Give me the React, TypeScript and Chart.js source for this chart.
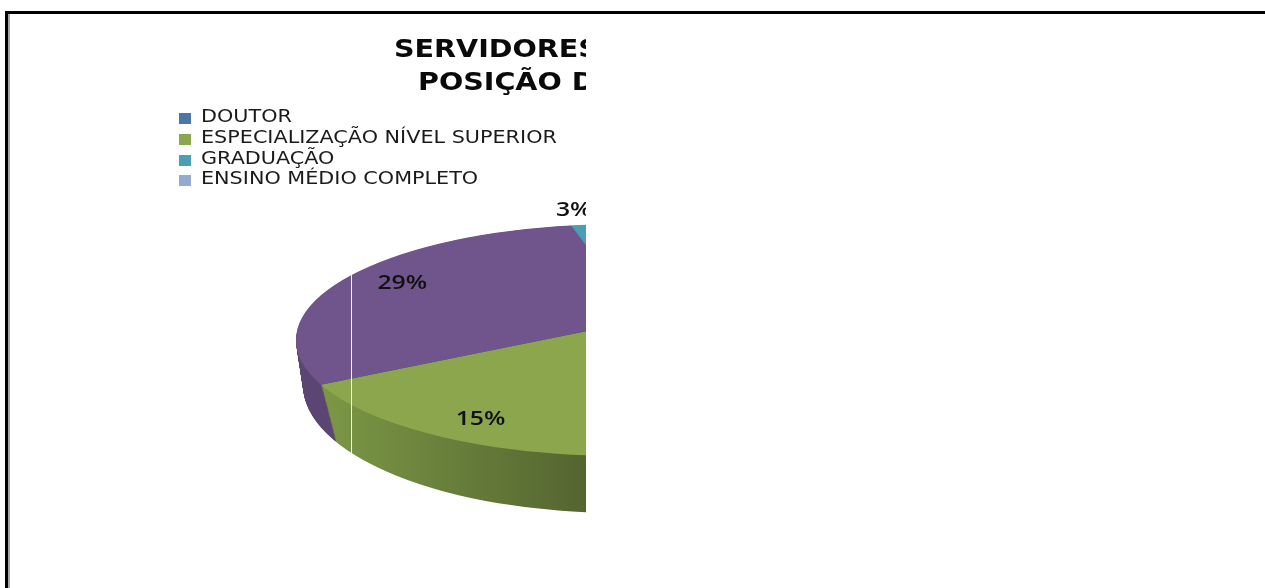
import React, { useEffect, useRef } from "react";
import { Chart, registerables } from "chart.js";

Chart.register(...registerables);

// Slice shares in percent, clockwise; blank labels belong to legend entries outside the panel.
const categories = ["DOUTOR", "", "ESPECIALIZAÇÃO NÍVEL SUPERIOR", "", "GRADUAÇÃO", "", "ENSINO MÉDIO COMPLETO"];
const shares = [3, 12, 15, 29, 3, 30, 8];
const labelledSlices = [2, 3, 4];
const faceColors = ["#4A76A8", "#A8433F", "#8BA64D", "#70558C", "#4A9FB5", "#D9833B", "#93A9CF"];
const wallFrom = ["#3A5C84", "#843431", "#7B9745", "#5B4573", "#3A7D8E", "#AB672E", "#7487A6"];
const wallTo = ["#3A5C84", "#843431", "#546530", "#5F4878", "#3A7D8E", "#AB672E", "#7487A6"];
const titleLines = ["SERVIDORES", "POSIÇÃO D"];
const legendColors = ["#4A76A8", "#8BA64D", "#4A9FB5", "#93A9CF"];

const PANEL_RIGHT = 586;
const SPIN_DEG = 150.6 + 90 - 3.6 * (shares[0] + shares[1] + shares[2]);

// Face and base outlines of the tilted pie, with the apex where the slices meet.
const face = { cx: 620, cy: 340, a: 324, b: 116, apexX: 642, apexY: 320 };
const base = { cx: 620, cy: 385, a: 317, b: 128, apexX: 642, apexY: 372 };

const lerp = (p: number, q: number, t: number) => p + (q - p) * t;

function drawPieLayer(ctx: CanvasRenderingContext2D, meta: any, t: number) {
  const cy = lerp(face.cy, base.cy, t);
  const a = lerp(face.a, base.a, t);
  const b = lerp(face.b, base.b, t);
  const apexX = lerp(face.apexX, base.apexX, t);
  const apexY = lerp(face.apexY, base.apexY, t);
  const first = meta.data[0];
  const S = 480 / first.outerRadius;
  const ky = 0.358 + (b / a - face.b / face.a);

  ctx.save();
  ctx.beginPath();
  ctx.rect(0, 0, PANEL_RIGHT, 588);
  ctx.clip();
  ctx.beginPath();
  ctx.ellipse(face.cx, cy, a, b, 0, 0, Math.PI * 2);
  ctx.clip();
  ctx.translate(apexX, apexY);
  ctx.scale(S, S * ky);
  ctx.translate(-first.x, -first.y);

  meta.data.forEach((arc: any, i: number) => {
    const saved = arc.options;
    let fill: any = faceColors[i];
    if (t > 0) {
      const toLib = (px: number) => first.x + (px - apexX) / S;
      const g = ctx.createLinearGradient(toLib(325), 0, toLib(PANEL_RIGHT), 0);
      g.addColorStop(0, wallFrom[i]);
      g.addColorStop(1, wallTo[i]);
      fill = g;
    }
    arc.options = Object.assign({}, saved, { backgroundColor: fill, borderWidth: 0 });
    arc.draw(ctx);
    arc.options = saved;
  });
  ctx.restore();
}

const tiltedPie = {
  id: "tiltedPie",
  beforeDatasetDraw(chart: any, args: any) {
    const ctx = chart.ctx;
    const steps = 80;
    for (let k = steps; k >= 0; k--) drawPieLayer(ctx, args.meta, k / steps);
    return false;
  },
  afterDatasetsDraw(chart: any) {
    const ctx: CanvasRenderingContext2D = chart.ctx;
    const meta = chart.getDatasetMeta(0);
    ctx.save();
    ctx.beginPath();
    ctx.rect(0, 0, PANEL_RIGHT, 588);
    ctx.clip();

    // Seam running down the pie
    ctx.fillStyle = "#F4F4F0";
    ctx.fillRect(351, 275, 1, 179);

    // Percentage labels placed along each slice's bisector
    const placement: Record<number, { r: number; off: number }> = {
      2: { r: 322, off: -3.5 },
      3: { r: 261, off: 0.5 },
      4: { r: 313, off: -3.0 },
    };
    ctx.fillStyle = "#111";
    ctx.textAlign = "center";
    ctx.textBaseline = "middle";
    labelledSlices.forEach((i) => {
      const arc = meta.data[i];
      const mid = (arc.startAngle + arc.endAngle) / 2 + (placement[i].off * Math.PI) / 180;
      const x = face.apexX + placement[i].r * Math.cos(mid);
      const y = face.apexY + placement[i].r * 0.358 * Math.sin(mid);
      ctx.save();
      ctx.translate(x, y);
      ctx.scale(1.27, 1);
      ctx.font = '600 19.5px "Open Sans"';
      ctx.fillText(`${shares[i]}%`, 0, 0);
      ctx.restore();
    });

    // Title
    ctx.fillStyle = "#0A0A0A";
    ctx.textAlign = "left";
    ctx.textBaseline = "alphabetic";
    ctx.font = 'bold 24px "DejaVu Sans"';
    [
      { x: 394, y: 57 },
      { x: 418, y: 90 },
    ].forEach((pos, i) => {
      ctx.save();
      ctx.translate(pos.x, pos.y);
      ctx.scale(1.19, 1);
      ctx.fillText(titleLines[i], 0, 0);
      ctx.restore();
    });

    // Legend
    const entries = categories.filter((c) => c !== "");
    const rows = [118, 139, 160, 180];
    entries.forEach((label, i) => {
      ctx.fillStyle = legendColors[i];
      ctx.fillRect(179, rows[i] - 5, 12, 11);
      ctx.save();
      ctx.translate(201, rows[i]);
      ctx.scale(1.22, 1);
      ctx.fillStyle = "#1A1A1A";
      ctx.textBaseline = "middle";
      ctx.font = '17px "DejaVu Sans"';
      ctx.fillText(label, 0, 0);
      ctx.restore();
    });
    ctx.restore();

    // Panel frame on the top and left sides
    ctx.fillStyle = "#A8A8A8";
    ctx.fillRect(8, 14, 2, 574);
    ctx.fillStyle = "#000";
    ctx.fillRect(5, 11, 1260, 3);
    ctx.fillRect(5, 11, 3, 577);
  },
};

export default function App() {
  const ref = useRef<HTMLCanvasElement>(null);
  useEffect(() => {
    document.body.style.margin = "0";
    const chart = new Chart(ref.current!, {
      type: "pie",
      data: {
        labels: categories,
        datasets: [{ data: shares, backgroundColor: faceColors, borderWidth: 0 }],
      },
      options: {
        animation: false,
        responsive: false,
        rotation: SPIN_DEG,
        plugins: { legend: { display: false }, title: { display: false }, tooltip: { enabled: false } },
      },
      plugins: [tiltedPie],
    } as any);
    return () => chart.destroy();
  }, []);
  return (
    <canvas
      ref={ref}
      width={1265}
      height={588}
      style={{ display: "block", position: "fixed", left: 0, top: 0, background: "#fff" }}
    />
  );
}
